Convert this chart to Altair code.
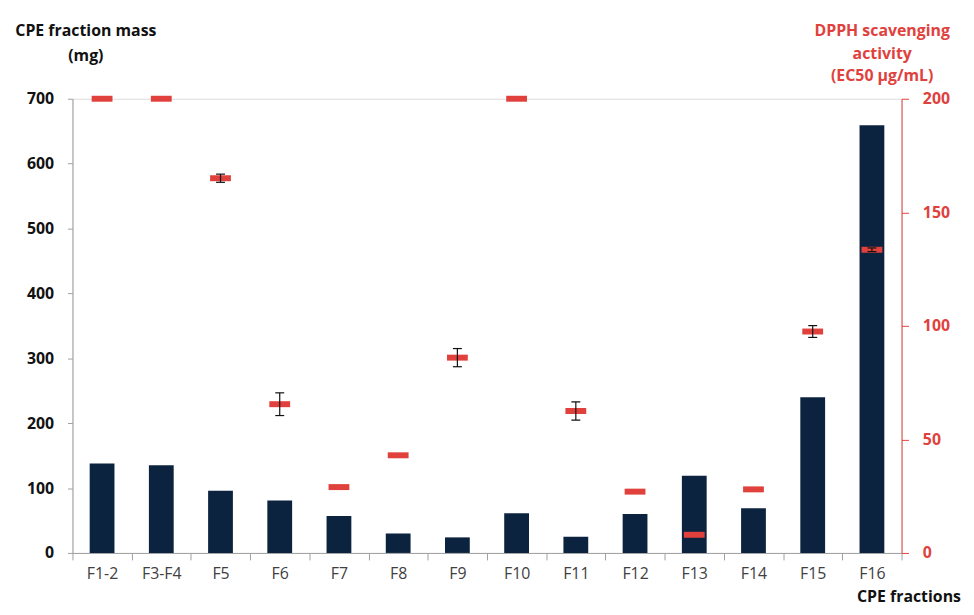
import altair as alt
import pandas as pd

fractions = ["F1-2", "F3-F4", "F5", "F6", "F7", "F8", "F9", "F10",
             "F11", "F12", "F13", "F14", "F15", "F16"]
mass_mg = [138, 135, 96, 81, 57, 30, 24, 61, 25, 60, 119, 69, 240, 659]
ec50 = [200, 200, 165, 65.5, 29, 43, 86, 200, 62.5, 27, 8, 28, 97.5, 133.5]
ec50_err = [0, 0, 1.8, 5, 0, 0, 4, 0, 4, 0, 0, 0, 2.6, 0.8]

df = pd.DataFrame({"fraction": fractions, "mass": mass_mg, "ec50": ec50, "err": ec50_err})
df["lo"] = df["ec50"] - df["err"]
df["hi"] = df["ec50"] + df["err"]
df_err = df[df["err"] > 0]

FONT = "Open Sans"
RED = "#e0413d"
NAVY = "#0c2340"
GREY = "#a0a0a0"
FS = 16

xscale = alt.Scale(paddingInner=0, paddingOuter=0)

x = alt.X("fraction:N", sort=fractions, scale=xscale,
          axis=alt.Axis(title="CPE fractions", labelAngle=0, tickBand="extent",
                        domainColor=GREY, tickColor=GREY, tickSize=7,
                        labelFont=FONT, labelFontSize=FS, labelColor="#404040",
                        labelPadding=6,
                        titleFont=FONT, titleFontSize=FS, titleFontWeight="bold",
                        titleColor="#111111", titleAngle=0, titleAlign="center",
                        titleBaseline="middle", titleX=843, titleY=44))

xs = alt.X("fraction:N", sort=fractions, scale=xscale)

bars = alt.Chart(df).mark_bar(color=NAVY, size=25).encode(
    x=x,
    y=alt.Y("mass:Q", scale=alt.Scale(domain=[0, 700]),
            axis=alt.Axis(values=[0, 100, 200, 300, 400, 500, 600, 700],
                          title=["CPE fraction mass", "(mg)"], grid=False,
                          domainColor=GREY, tickColor=GREY, tickSize=5,
                          labelFont=FONT, labelFontSize=FS, labelFontWeight="bold",
                          labelColor="#111111", labelPadding=14,
                          titleFont=FONT, titleFontSize=FS, titleFontWeight="bold",
                          titleColor="#111111", titleAngle=0, titleAlign="center",
                          titleBaseline="alphabetic", titleX=13, titleY=-64,
                          titleLineHeight=25)),
)

rscale = alt.Scale(domain=[0, 200])
raxis = alt.Axis(orient="right", values=[0, 50, 100, 150, 200],
                 title=["DPPH scavenging", "activity", "(EC50 µg/mL)"],
                 grid=False, domainColor=RED, tickColor=RED, tickSize=7,
                 labelFont=FONT, labelFontSize=FS, labelFontWeight="bold",
                 labelColor=RED, labelPadding=14,
                 titleFont=FONT, titleFontSize=FS, titleFontWeight="bold",
                 titleColor=RED, titleAngle=0, titleAlign="center",
                 titleBaseline="alphabetic", titleX=-20, titleY=-64,
                 titleLineHeight=23)

markers = alt.Chart(df).mark_tick(color=RED, thickness=6, size=21, opacity=1).encode(
    x=xs, y=alt.Y("ec50:Q", scale=rscale, axis=raxis))

err_rule = alt.Chart(df_err).mark_rule(color="#111111", strokeWidth=1.2).encode(
    x=xs, y=alt.Y("lo:Q", scale=rscale, axis=raxis), y2="hi:Q")
cap_lo = alt.Chart(df_err).mark_tick(color="#111111", thickness=1.2, size=9, opacity=1).encode(
    x=xs, y=alt.Y("lo:Q", scale=rscale, axis=raxis))
cap_hi = alt.Chart(df_err).mark_tick(color="#111111", thickness=1.2, size=9, opacity=1).encode(
    x=xs, y=alt.Y("hi:Q", scale=rscale, axis=raxis))

right = alt.layer(markers, err_rule, cap_lo, cap_hi)

chart = alt.layer(bars, right).resolve_scale(y="independent").properties(
    width=836, height=458,
    autosize=alt.AutoSizeParams(type="none"),
    padding={"left": 65, "top": 89, "right": 65, "bottom": 52},
).configure_view(strokeWidth=0).configure(background="white")

chart.save("out.html", embed_options={"renderer": "svg", "actions": False})
